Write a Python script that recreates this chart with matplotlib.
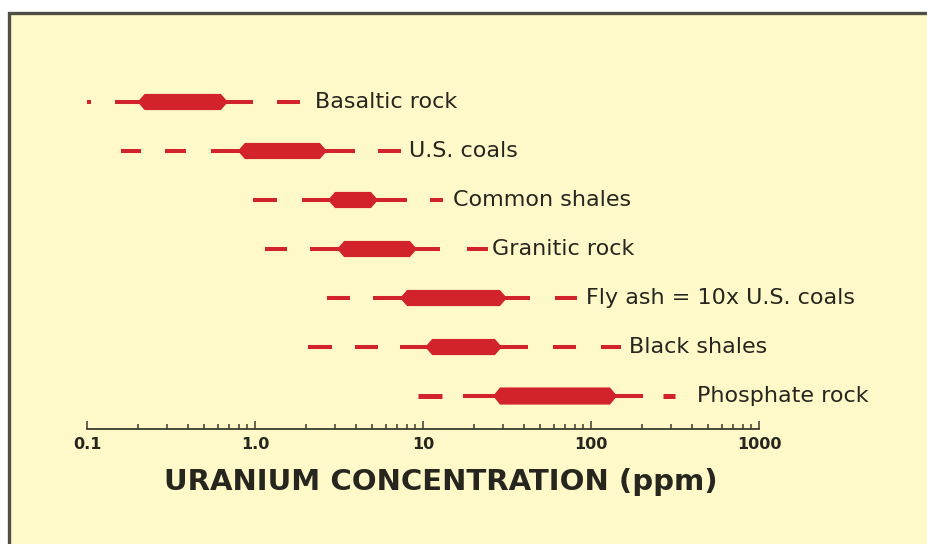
import numpy as np
import matplotlib
matplotlib.use('Agg')
import matplotlib.pyplot as plt
from matplotlib.patches import Rectangle
from matplotlib.ticker import FixedLocator, LogLocator, NullFormatter

rocks = ['Basaltic rock', 'U.S. coals', 'Common shales', 'Granitic rock',
         'Fly ash = 10x U.S. coals', 'Black shales', 'Phosphate rock']

# uranium ranges in ppm: dashed tails, thin range, thick core range
dashes = [
    [(0.097, 0.106), (1.35, 1.85)],
    [(0.16, 0.21), (0.29, 0.39), (5.4, 7.4)],
    [(0.97, 1.35), (11.0, 13.2)],
    [(1.15, 1.55), (18.3, 24.4)],
    [(2.68, 3.68), (61, 83)],
    [(2.07, 2.87), (3.94, 5.4), (59, 81), (115, 151)],
    [(9.3, 13.0), (268, 316)],
]
whisker_lo = [0.147, 0.55, 1.9, 2.13, 5.04, 7.3, 17.3]
whisker_hi = [0.97, 3.94, 8.0, 12.6, 43.3, 42.2, 204]
core_lo = [0.20, 0.79, 2.72, 3.08, 7.3, 10.3, 26.1]
core_hi = [0.69, 2.68, 5.4, 9.2, 31.6, 29.5, 143]

tick_vals = [0.1, 1, 10, 100, 1000]
tick_text = ['0.1', '1.0', '10', '100', '1000']

# gap between the last dash and the label, in points
label_pad = [11, 6, 7, 3, 6, 6, 16]

RED = '#d2232a'
BG = '#fff8c8'
INK = '#26261f'

plt.rcParams['font.family'] = ['DejaVu Sans']

fig = plt.figure(figsize=(9.27, 5.44), dpi=100, facecolor='white')
# framed panel, left and top edges visible
fig.patches.append(Rectangle((9 / 927, -0.1), 1.2, 0.1 + 531 / 544,
                             transform=fig.transFigure, facecolor=BG,
                             edgecolor='#4f4f45', linewidth=2.4, zorder=-10))

ax = fig.add_axes([87 / 927, 115 / 544, 672 / 927, 359 / 544])
ax.set_facecolor('none')
ax.set_xscale('log')
ax.set_xlim(0.1, 1000)
ax.set_ylim(-0.673, 6.653)

ypos = np.arange(len(rocks))[::-1]
thin = 2.9      # line width in points
core_h = 0.33   # core bar height in data units
taper = 10 ** 0.042

for i, y in enumerate(ypos):
    lw = 3.6 if i == len(rocks) - 1 else thin
    for a, b in dashes[i]:
        ax.plot([a, b], [y, y], color=RED, lw=lw, solid_capstyle='butt')
    ax.plot([whisker_lo[i], whisker_hi[i]], [y, y], color=RED, lw=thin,
            solid_capstyle='butt')
    a, b = core_lo[i], core_hi[i]
    h = core_h * (1.06 if i == len(rocks) - 1 else 1.0)
    xs = [a, a * taper, b / taper, b, b / taper, a * taper]
    ys = [y, y + h / 2, y + h / 2, y, y - h / 2, y - h / 2]
    ax.fill(xs, ys, color=RED, lw=0)
    end = max(d[1] for d in dashes[i])
    ax.annotate(rocks[i], (end, y), xytext=(label_pad[i], 0),
                textcoords='offset points', ha='left', va='center',
                fontsize=16, color=INK, annotation_clip=False)

for side in ['left', 'right', 'top']:
    ax.spines[side].set_visible(False)
ax.spines['bottom'].set_color('#3c3c30')
ax.spines['bottom'].set_linewidth(1.3)
ax.set_yticks([])

ax.xaxis.set_major_locator(FixedLocator(tick_vals))
ax.set_xticklabels(tick_text)
ax.xaxis.set_minor_locator(LogLocator(base=10, subs=np.arange(2, 10)))
ax.xaxis.set_minor_formatter(NullFormatter())
ax.tick_params(axis='x', which='major', direction='in', length=6, width=1.1,
               color='#3c3c30', pad=6, labelsize=11.5, labelcolor=INK)
ax.tick_params(axis='x', which='minor', direction='in', length=3.5,
               width=1.1, color='#3c3c30')
for lbl in ax.get_xticklabels():
    lbl.set_fontweight('bold')

ax.set_xlabel('URANIUM CONCENTRATION (ppm)', fontsize=21, fontweight='bold',
              color=INK)
ax.xaxis.set_label_coords(0.527, -0.11)

fig.savefig('out.png', dpi=100, facecolor='white')
